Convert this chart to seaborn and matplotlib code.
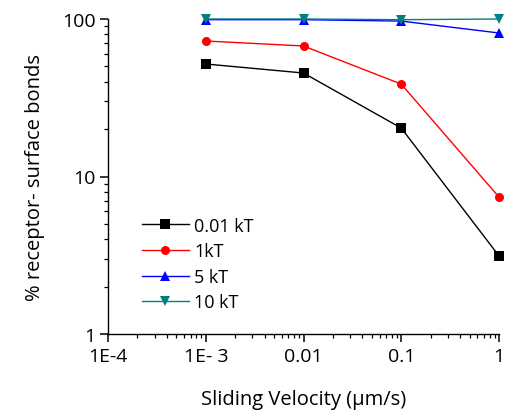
import matplotlib
matplotlib.use("Agg")
import matplotlib.pyplot as plt
import matplotlib.ticker as mticker
import seaborn as sns
import pandas as pd

velocity = [0.001, 0.01, 0.1, 1]
series = ["0.01 kT", "1kT", "5 kT", "10 kT"]
bonds_001kT = [51.8, 45.4, 20.3, 3.13]
bonds_1kT = [72.5, 67.4, 38.6, 7.4]
bonds_5kT = [99, 99, 97, 81.5]
bonds_10kT = [100, 100, 99, 100]
xtick_vals = [1e-4, 1e-3, 1e-2, 1e-1, 1]
xtick_labels = ["1E-4", "1E- 3", "0.01", "0.1", "1"]
ytick_vals = [1, 10, 100]
ytick_labels = ["1", "10", "100"]

rows = []
for name, vals in zip(series, [bonds_001kT, bonds_1kT, bonds_5kT, bonds_10kT]):
    for v, b in zip(velocity, vals):
        rows.append({"velocity": v, "bonds": b, "series": name})
df = pd.DataFrame(rows)

plt.rcParams["font.family"] = ["Open Sans", "DejaVu Sans"]
plt.rcParams["text.color"] = "black"
plt.rcParams["axes.labelcolor"] = "black"

fig, ax = plt.subplots(figsize=(5.05, 4.14), dpi=100)
fig.subplots_adjust(left=108/505, right=499/505, bottom=1-335/414, top=1-20/414)

palette = {"0.01 kT": "black", "1kT": "red", "5 kT": "blue", "10 kT": "#008080"}
markers = {"0.01 kT": "s", "1kT": "o", "5 kT": "^", "10 kT": "v"}
sns.lineplot(data=df, x="velocity", y="bonds", hue="series", style="series",
             hue_order=series, style_order=series, palette=palette,
             markers=markers, dashes=False, markersize=6.5, linewidth=1.0,
             markeredgewidth=0, ax=ax)
for ln in ax.lines:
    ln.set_clip_on(False)

ax.set_xscale("log")
ax.set_yscale("log")
ax.set_xlim(1e-4, 1)
ax.set_ylim(1, 100)
ax.set_xticks(xtick_vals)
ax.set_xticklabels(xtick_labels)
ax.set_yticks(ytick_vals)
ax.set_yticklabels(ytick_labels)
xminor = [m * 10.0 ** e for e in range(-4, 0) for m in range(2, 10)]
yminor = [m * 10.0 ** e for e in range(0, 2) for m in range(2, 10)]
ax.set_xticks(xminor, minor=True)
ax.set_yticks(yminor, minor=True)
ax.xaxis.set_minor_formatter(mticker.NullFormatter())
ax.yaxis.set_minor_formatter(mticker.NullFormatter())
ax.tick_params(axis="both", which="major", direction="out", length=6, width=1.1,
               labelsize=14, colors="black", pad=3)
ax.tick_params(axis="both", which="minor", direction="out", length=3, width=0.9,
               colors="black")
for s in ["top", "right"]:
    ax.spines[s].set_visible(False)
for s in ["left", "bottom"]:
    ax.spines[s].set_linewidth(1)
    ax.spines[s].set_color("black")

ax.set_xlabel("Sliding Velocity (μm/s)", fontsize=14.5, labelpad=18)
ax.set_ylabel("% receptor- surface bonds", fontsize=14.5, labelpad=12)

leg = ax.legend(loc="lower left", bbox_to_anchor=(0.045, 0.02), frameon=False,
                fontsize=13, handlelength=2.6, labelspacing=0.42, handletextpad=0.3)
for t in leg.get_texts():
    t.set_color("black")

fig.savefig("out.png", dpi=100)
